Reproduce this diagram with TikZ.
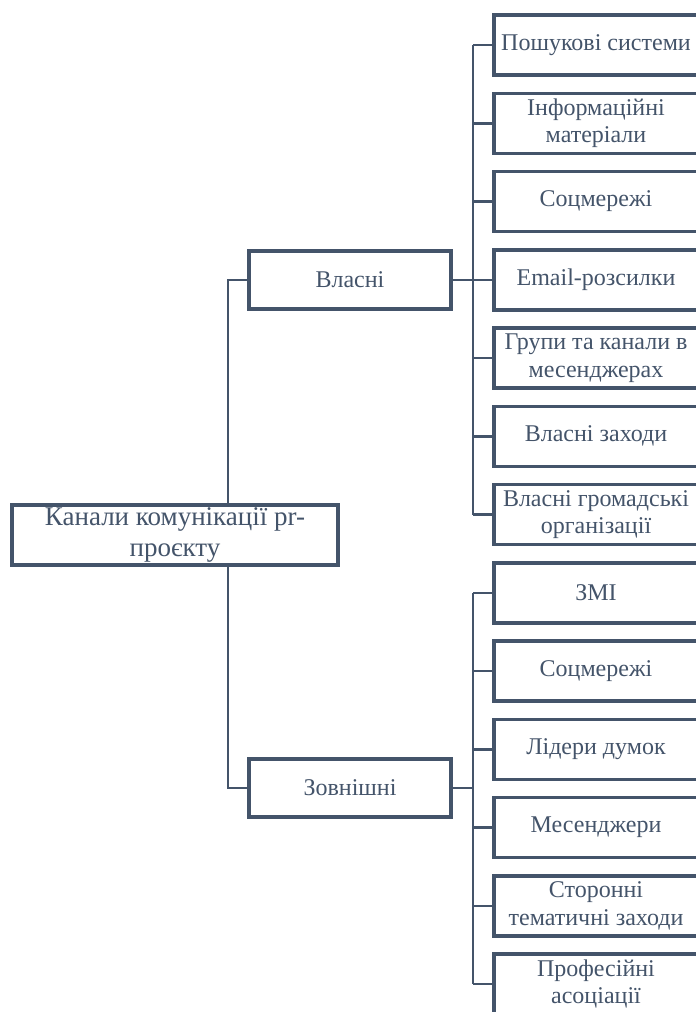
\documentclass[tikz,border=0pt]{standalone}
\usepackage{fontspec}
\setmainfont{Liberation Serif}
\definecolor{ln}{HTML}{44546A}
\definecolor{tx}{HTML}{44546A}
\newcommand{\boxfont}{\fontsize{24}{27.5}\selectfont}
\newcommand{\rootfont}{\fontsize{27}{30.5}\selectfont}
\begin{document}
\begin{tikzpicture}[x=1pt,y=-1pt]
\tikzset{
  box/.style={draw=ln, line width=3.5pt, fill=white, inner sep=0pt, align=center, text=tx, font=\boxfont},
  leaf/.style={box, minimum width=204pt, minimum height=60pt},
  mid/.style={box, minimum width=202pt, minimum height=58pt},
  conn/.style={draw=ln, line width=2.5pt}
}
\useasboundingbox (0,0) rectangle (696,1012);
\clip (0,0) rectangle (696,1012);
\coordinate (sA) at (228,0);
\coordinate (sB) at (473,0);
% root and middle level
\node[box, font=\rootfont, minimum width=326pt, minimum height=60pt] (root) at (175,535) {Канали комунікації pr-\\проєкту};
\node[mid] (vl) at (350,280) {Власні};
\node[mid] (zv) at (350,788) {Зовнішні};
% leaves
\foreach \i/\t in {0/{Пошукові системи},1/{Інформаційні\\матеріали},2/{Соцмережі},3/{Email-розсилки},4/{Групи та канали в\\месенджерах},5/{Власні заходи},6/{Власні громадські\\організації},7/{ЗМІ},8/{Соцмережі},9/{Лідери думок},10/{Месенджери},11/{Сторонні\\тематичні заходи},12/{Професійні\\асоціації}}{
  \node[leaf] (c\i) at (596,{45+78.25*\i}) {\t};
}
% connectors root -> middle
\draw[conn] (root.north -| sA) |- (vl.west);
\draw[conn] (root.south -| sA) |- (zv.west);
% group 1
\draw[conn] (vl.east) -- (sB |- vl.east);
\draw[conn] (sB |- c0.west) -- (sB |- c6.west);
\foreach \i in {0,...,6}{
  \draw[conn] (sB |- c\i.west) -- (c\i.west);
}
% group 2
\draw[conn] (zv.east) -- (sB |- zv.east);
\draw[conn] (sB |- c7.west) -- (sB |- c12.west);
\foreach \i in {7,...,12}{
  \draw[conn] (sB |- c\i.west) -- (c\i.west);
}
\end{tikzpicture}
\end{document}
